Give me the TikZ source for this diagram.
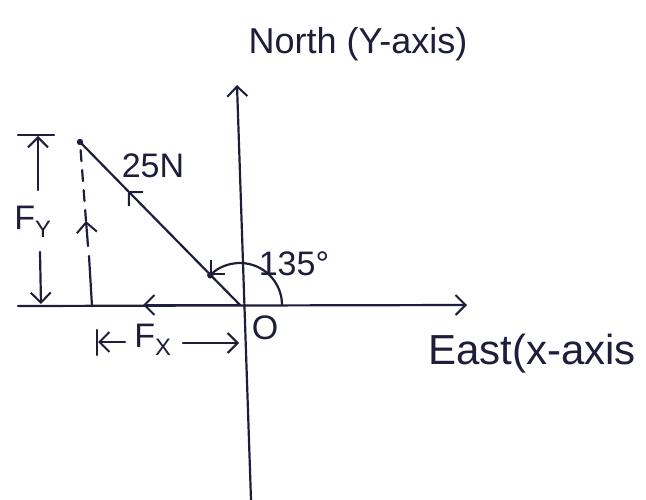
\documentclass[tikz,border=0pt]{standalone}
\usepackage{fontspec}
\setmainfont{Liberation Sans}
\usepackage{xcolor}
\usepackage{tikz}
\usetikzlibrary{arrows.meta}
\definecolor{inkblue}{RGB}{28,30,58}
\tikzset{
    sketch/.style={line width=2.2pt, draw=inkblue, line cap=round},
    sketch arrow/.style={sketch, -{Straight Barb[length=10pt, width=20pt, line width=2pt]}},
    sketch dashed/.style={sketch, dash pattern=on 11pt off 9pt},
    sketch label/.style={text=inkblue, inner sep=1pt},
}

\begin{document}
\begin{tikzpicture}[
    x=1pt, y=-1pt,
    huge/.style={sketch label, font=\fontsize{34}{36}\selectfont},
    title/.style={sketch label, font=\fontsize{36}{38}\selectfont},
    axisname/.style={sketch label, font=\fontsize{42}{44}\selectfont},
    dot/.style={fill=inkblue}
  ]
    \useasboundingbox (0,0) rectangle (646,500);

    % axes
    \coordinate (O) at (240,305);
    \coordinate (xleft) at (18,306);
    \coordinate (xright) at (467,305);
    \coordinate (ytop) at (237,85);
    \coordinate (ybot) at (251,500);
    \draw[sketch arrow] (ybot) -- (ytop);
    \draw[sketch arrow] (xleft) -- (xright);
    \coordinate (xmid) at (143,305);
    \draw[sketch arrow] (O) -- (xmid);

    % the 25 N force and its angle
    \coordinate (tip) at (80,142);
    \coordinate (forcemid) at (128,191);
    \draw[sketch arrow] (O) -- (forcemid);
    \draw[sketch] (forcemid) -- (tip);
    \fill[dot] (tip) circle (3.2pt);
    \coordinate (arcstart) at ([shift={(0:42pt)}]O);
    \coordinate (arcend) at ([shift={(135:42pt)}]O);
    \draw[sketch arrow] (arcstart) arc[start angle=0, end angle=135, radius=42pt];
    \fill[dot] (arcend) circle (3.2pt);

    % vertical component
    \coordinate (foot) at (92,306);
    \coordinate (footup) at (89,256);
    \coordinate (fystem) at (88,246);
    \coordinate (fyup) at (86,221);
    \draw[sketch] (foot) -- (footup);
    \draw[sketch arrow] (fystem) -- (fyup);
    \draw[sketch dashed] (fyup) -- (tip);

    % F_Y dimension
    \coordinate (bartl) at (18,135);
    \coordinate (bartr) at (54,135);
    \coordinate (fytop) at (38,136);
    \coordinate (fyhi) at (38,190);
    \coordinate (fylo) at (40,252);
    \coordinate (fybot) at (41,304);
    \draw[sketch] (bartl) -- (bartr);
    \draw[sketch arrow] (fyhi) -- (fytop);
    \draw[sketch arrow] (fylo) -- (fybot);
    \node[huge] (fylabel) at (33,222) {F\textsubscript{Y}};

    % F_X dimension
    \coordinate (fxtickT) at (97,330);
    \coordinate (fxtickB) at (97,355);
    \coordinate (fxl0) at (98,342);
    \coordinate (fxl1) at (125,342);
    \coordinate (fxr1) at (183,343);
    \coordinate (fxr0) at (239,343);
    \draw[sketch] (fxtickT) -- (fxtickB);
    \draw[sketch arrow] (fxl1) -- (fxl0);
    \draw[sketch arrow] (fxr1) -- (fxr0);
    \node[huge] (fxlabel) at (153,340) {F\textsubscript{X}};

    % labels
    \node[title] (north) at (358,44) {North (Y-axis)};
    \node[axisname, anchor=west] (east) at (427,354) {East(x-axis};
    \node[huge] (origin) at (265,328) {O};
    \node[huge] (angle) at (294,264) {135°};
    \node[huge] (force) at (153,166) {25N};
  \end{tikzpicture}
\end{document}
